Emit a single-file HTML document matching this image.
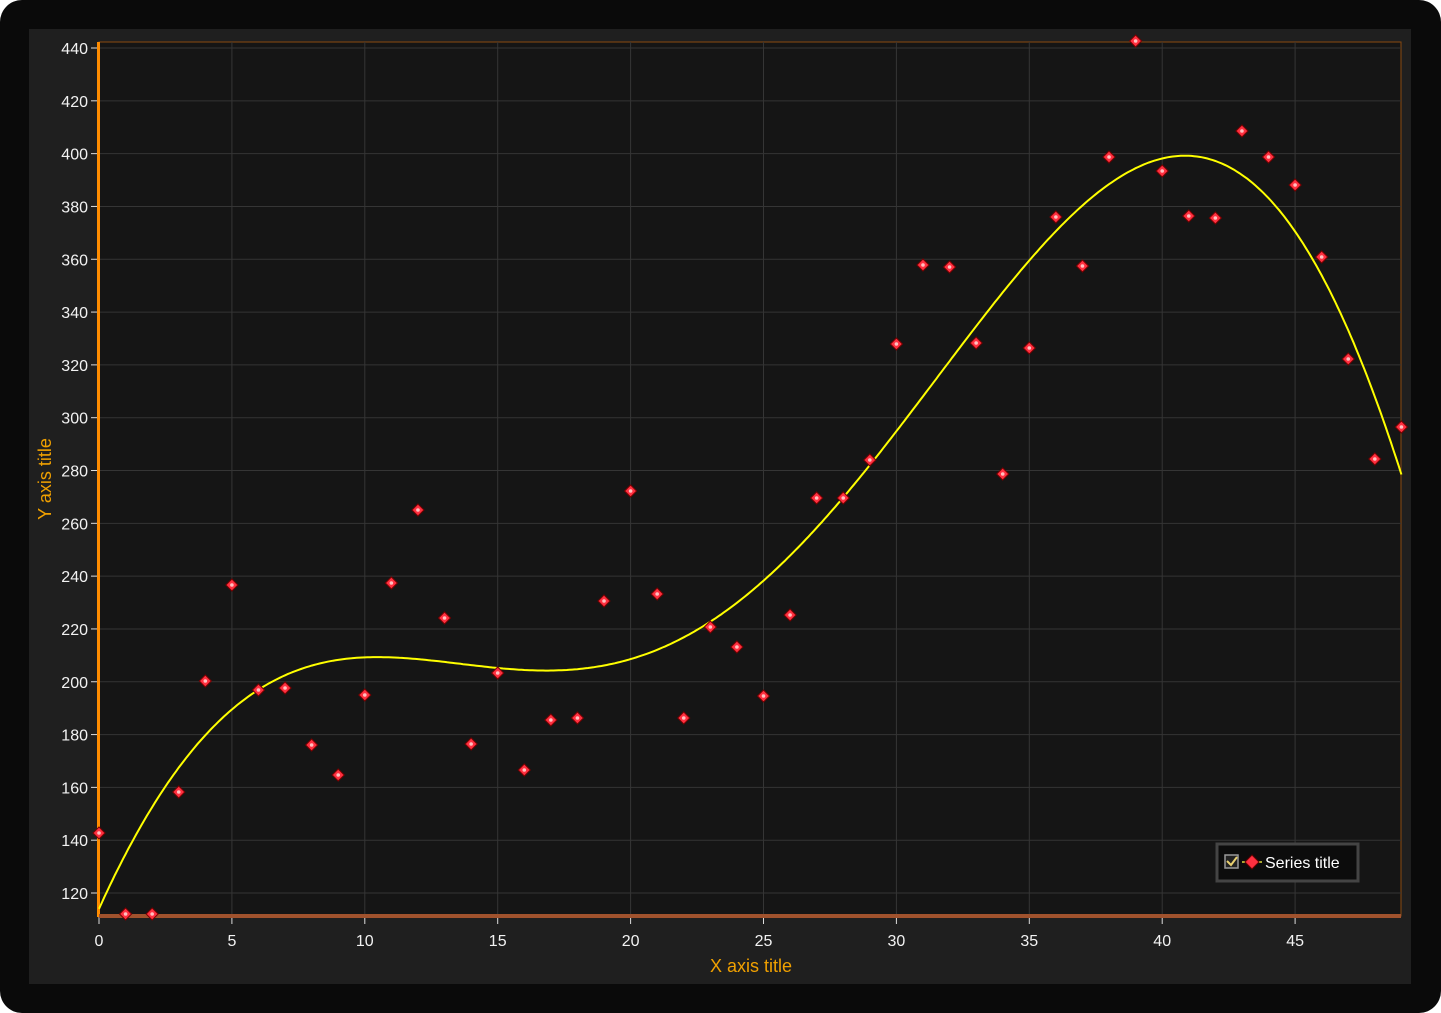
<!DOCTYPE html>
<html><head><meta charset="utf-8"><style>
html,body{margin:0;padding:0;background:#fff;}
svg{display:block;font-family:"Liberation Sans",sans-serif;}
</style></head><body>
<svg id="s" width="1441" height="1013" viewBox="0 0 1441 1013" xmlns="http://www.w3.org/2000/svg">
<rect x="0" y="0" width="1441" height="1013" rx="22" fill="#0a0a0a"/>
<rect x="29" y="29" width="1382" height="955" fill="#1f1f1f"/>
<rect x="99" y="42" width="1302" height="874" fill="#151515" stroke="#8a4a10" stroke-width="1"/>
<g id="grid" stroke="#353535" stroke-width="1"></g>
<g id="lab" fill="#f2f2f2" font-size="16"></g>
<rect x="97" y="42" width="3" height="875" fill="#ff8c00"/>
<rect x="99" y="914" width="1302" height="4" fill="#a0522d"/>
<path id="curve" fill="none" stroke="#ffff00" stroke-width="2"/>
<g id="pts"></g>
<text x="751" y="972" fill="#f0a000" font-size="18" text-anchor="middle">X axis title</text>
<text transform="translate(51,479) rotate(-90)" fill="#f0a000" font-size="18" text-anchor="middle">Y axis title</text>
<rect x="1217" y="844" width="141" height="37" fill="#0c0c0c" stroke="#444" stroke-width="3"/>
<rect x="1225" y="855" width="13" height="13" fill="#222" stroke="#999" stroke-width="1.5"/>
<path d="M1227 861 l4 4 l6 -8" stroke="#e8d070" stroke-width="2" fill="none"/>
<line x1="1242" y1="862" x2="1262" y2="862" stroke="#aaa830" stroke-width="2"/>
<path d="M1252 855 l7 7 l-7 7 l-7 -7z" fill="#ff3040" stroke="#600" stroke-width="1"/>
<text x="1265" y="868" fill="#fff" font-size="16">Series title</text>
</svg>
<script>
var NS="http://www.w3.org/2000/svg",s=document.getElementById('s');
function el(p,t,a,txt){var e=document.createElementNS(NS,t);for(var k in a)e.setAttribute(k,a[k]);if(txt!=null)e.textContent=txt;p.appendChild(e);return e;}
var g=document.getElementById('grid'),L=document.getElementById('lab');
function X(i){return 99+i*26.58;}
function Y(v){return 893-(v-120)*2.6406;}
for(var i=0;i<=45;i+=5){var x=X(i);if(i>0)el(g,'line',{x1:x,y1:42,x2:x,y2:916});el(g,'line',{x1:x,y1:916,x2:x,y2:924,stroke:'#ddd'});el(L,'text',{x:x,y:946,'text-anchor':'middle'},i);}
for(var v=120;v<=440;v+=20){var y=Y(v);el(g,'line',{x1:99,y1:y,x2:1401,y2:y});el(g,'line',{x1:91,y1:y,x2:97,y2:y,stroke:'#ddd'});el(L,'text',{x:88,y:y+6,'text-anchor':'end'},v);}
var c=[907,855,810,770,735,707,686,672,665,661,659,659,661,664,667,669,670,670,668,664,658,648,635,620,602,582,557,530,498,465,430,396,362,328,293,262,233,207,183,165,156,154,160,175,198,232,277,333,400,470];
// least squares polynomial fit degree 6
var deg=6,n=c.length,A=[],B=[];
for(var r=0;r<=deg;r++){A.push(new Array(deg+1).fill(0));B.push(0);}
for(var k=0;k<n;k++){var t=k/49;for(var r=0;r<=deg;r++){B[r]+=c[k]*Math.pow(t,r);for(var q=0;q<=deg;q++)A[r][q]+=Math.pow(t,r+q);}}
for(var r=0;r<=deg;r++){var p=A[r][r];for(var q=r+1;q<=deg;q++){var f=A[q][r]/p;for(var z=r;z<=deg;z++)A[q][z]-=f*A[r][z];B[q]-=f*B[r];}}
var co=new Array(deg+1);for(var r=deg;r>=0;r--){var sm=B[r];for(var q=r+1;q<=deg;q++)sm-=A[r][q]*co[q];co[r]=sm/A[r][r];}
var d="";for(var k=0;k<=490;k++){var t=k/490,y=0;for(var r=0;r<=deg;r++)y+=co[r]*Math.pow(t,r);d+=(k?"L":"M")+X(t*49).toFixed(1)+" "+y.toFixed(1);}
document.getElementById('curve').setAttribute('d',d);
var pts=[833,914,914,792,681,585,690,688,745,775,695,583,510,618,744,673,770,720,718,601,491,594,718,627,647,696,615,498,498,460,344,265,267,343,474,348,217,266,157,41,171,216,218,131,157,185,257,359,459,427];
var pg=document.getElementById('pts');
pts.forEach(function(y,i){var x=X(i);el(pg,'path',{d:"M"+x+" "+(y-6)+" l6 6 l-6 6 l-6 -6z",fill:'#ff3040',stroke:'#700','stroke-width':1});el(pg,'circle',{cx:x,cy:y,r:1.8,fill:'#ffc0c0'});});
</script>
</body></html>
